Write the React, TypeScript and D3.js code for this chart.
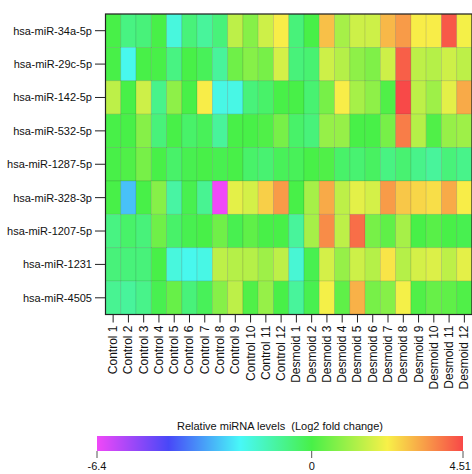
import React from "react";
import * as d3 from "d3";

const rowLabels = [
  "hsa-miR-34a-5p",
  "hsa-miR-29c-5p",
  "hsa-miR-142-5p",
  "hsa-miR-532-5p",
  "hsa-miR-1287-5p",
  "hsa-miR-328-3p",
  "hsa-miR-1207-5p",
  "hsa-miR-1231",
  "hsa-miR-4505",
];

const colLabels = [
  "Control 1", "Control 2", "Control 3", "Control 4", "Control 5", "Control 6",
  "Control 7", "Control 8", "Control 9", "Control 10", "Control 11", "Control 12",
  "Desmoid 1", "Desmoid 2", "Desmoid 3", "Desmoid 4", "Desmoid 5", "Desmoid 6",
  "Desmoid 7", "Desmoid 8", "Desmoid 9", "Desmoid 10", "Desmoid 11", "Desmoid 12",
];

// log2 fold change, one row per miRNA, Control 1..12 then Desmoid 1..12
const values = [
  [0, -0.7, -0.6, 0, -1.8, -0.6, -1.0, -0.6, 1.5, 0.8, 1.7, 2.3, -0.6, 0, 2.9, 1.2, 1.7, 1.7, 3.0, 3.4, 2.3, 2.3, 4.3, 2.2],
  [0, -2.0, 0, 0, -0.7, 0, -0.2, -1.0, 0.5, 0.8, 0.6, 1.8, -0.6, -0.5, 1.7, 1.4, 0.9, 0.7, 1.7, 4.2, 1.5, 1.4, 1.7, 1.5],
  [1.5, 0, 1.7, -0.8, 0.9, 0, 2.3, -1.9, -1.9, -0.6, -0.4, 0, 0, -0.5, 0.6, 2.3, 1.2, 0.9, 0.1, 4.5, 1.5, 1.1, 2.0, 3.2],
  [0, 0, 0.8, -0.6, 0, -0.4, -0.2, -1.0, 0, 0, 0.1, 0.6, -0.4, -0.6, 1.0, 1.0, 0, 0, 0.6, 3.8, 1.4, 0.1, 1.0, 1.1],
  [0, 0.1, 0.6, 0, -0.4, -0.1, 0, -0.1, 0, -0.4, -0.5, -0.2, -0.2, 0, 0.1, -0.4, -0.5, -0.3, -0.7, -0.5, -0.8, -1.0, -0.6, -0.8],
  [0, -2.8, 0, 0.8, -1.1, -0.1, -0.9, -6.4, 2.0, 1.8, 2.7, 3.4, 0, 1.2, 3.2, 1.5, 2.0, 1.8, 3.4, 2.8, 2.6, 2.5, 3.2, 2.3],
  [-0.7, -0.4, -0.6, 0.5, -0.4, -0.1, 0, 0.5, -0.1, 0.3, 0, 0, -1.0, 1.2, 3.6, 1.5, 4.0, 0.6, 0.3, 1.2, 0, 0.2, 0, -0.1],
  [-0.6, -0.6, -0.6, 0, -1.8, -2.0, -1.9, 1.5, 1.4, 1.4, 1.1, 1.5, -1.7, -0.1, 1.8, 1.0, 1.7, 1.4, 2.4, 1.4, 1.8, 1.9, 1.5, 2.0],
  [-0.9, -1.0, -0.8, -0.1, 0.4, -0.6, -0.2, 0.8, 1.5, 0.1, 1.0, 0, -1.0, -0.1, 2.2, 0.3, 3.1, 0.6, 0.8, 2.2, 0.1, 0.4, 0.3, 0.1],
];

const legendTicks = [-6.4, 0, 4.51];
const colorStops = [-6.4, -4.267, -2.133, 0, 2.255, 4.51];
const colorRange = ["#f048f8", "#4848f8", "#48f8f8", "#48f048", "#f8f048", "#f84848"];

const font = "'Liberation Sans', Arial, Helvetica, sans-serif";

export default function App() {
  const width = 472;
  const height = 474;

  const x = d3.scaleBand<string>().domain(colLabels).range([105.5, 472]);
  const y = d3.scaleBand<string>().domain(rowLabels).range([14, 314.5]);
  const color = d3.scaleLinear<string>().domain(colorStops).range(colorRange).interpolate(d3.interpolateRgb);

  const legendX = d3.scaleLinear().domain([-6.4, 4.51]).range([97, 463]);
  const legendTop = 436;
  const legendH = 15;

  const [x0, x1] = x.range();
  const [y0, y1] = y.range();

  return (
    <div style={{ position: "absolute", left: 0, top: 0 }}>
      <svg width={width} height={height} style={{ display: "block", fontFamily: font }}>
        <defs>
          <linearGradient id="legendGrad" x1="0" x2="1" y1="0" y2="0">
            {colorStops.map((v, i) => (
              <stop key={i} offset={(legendX(v) - legendX(-6.4)) / (legendX(4.51) - legendX(-6.4))} stopColor={colorRange[i]} />
            ))}
          </linearGradient>
        </defs>

        {values.map((row, ri) =>
          row.map((v, ci) => (
            <rect
              key={ri + "-" + ci}
              x={x(colLabels[ci])}
              y={y(rowLabels[ri])}
              width={x.bandwidth()}
              height={y.bandwidth()}
              fill={color(v)}
              stroke="rgba(0,0,0,0.13)"
              strokeWidth={0.8}
            />
          ))
        )}
        <rect x={x0} y={y0} width={x1 - x0} height={y1 - y0} fill="none" stroke="#222" strokeWidth={1.2} />

        {rowLabels.map((r) => {
          const cy = (y(r) as number) + y.bandwidth() / 2;
          return (
            <g key={r}>
              <line x1={95} x2={x0} y1={cy} y2={cy} stroke="#222" strokeWidth={1} />
              <text x={92} y={cy} textAnchor="end" dominantBaseline="central" fontSize={11} fill="#111">
                {r}
              </text>
            </g>
          );
        })}

        {colLabels.map((c) => {
          const cx = (x(c) as number) + x.bandwidth() / 2;
          return (
            <g key={c}>
              <line x1={cx} x2={cx} y1={y1} y2={y1 + 8} stroke="#222" strokeWidth={1} />
              <text
                transform={`translate(${cx},${y1 + 11}) rotate(-90)`}
                textAnchor="end"
                dominantBaseline="central"
                fontSize={12}
                fill="#111"
              >
                {c}
              </text>
            </g>
          );
        })}

        <text
          x={(legendX(-6.4) + legendX(4.51)) / 2}
          y={426}
          textAnchor="middle"
          dominantBaseline="central"
          fontSize={11}
          fill="#111"
          style={{ whiteSpace: "pre" }}
        >
          {"Relative miRNA levels  (Log2 fold change)"}
        </text>
        <rect x={legendX(-6.4)} y={legendTop} width={legendX(4.51) - legendX(-6.4)} height={legendH} fill="url(#legendGrad)" />
        {legendTicks.map((t, i) => (
          <g key={t}>
            <line x1={legendX(t)} x2={legendX(t)} y1={legendTop + legendH} y2={legendTop + legendH + 7} stroke="#555" strokeWidth={1} />
            <text
              x={i === legendTicks.length - 1 ? width - 1 : legendX(t)}
              y={466}
              textAnchor={i === legendTicks.length - 1 ? "end" : "middle"}
              dominantBaseline="central"
              fontSize={11}
              fill="#111"
            >
              {t}
            </text>
          </g>
        ))}
      </svg>
    </div>
  );
}
